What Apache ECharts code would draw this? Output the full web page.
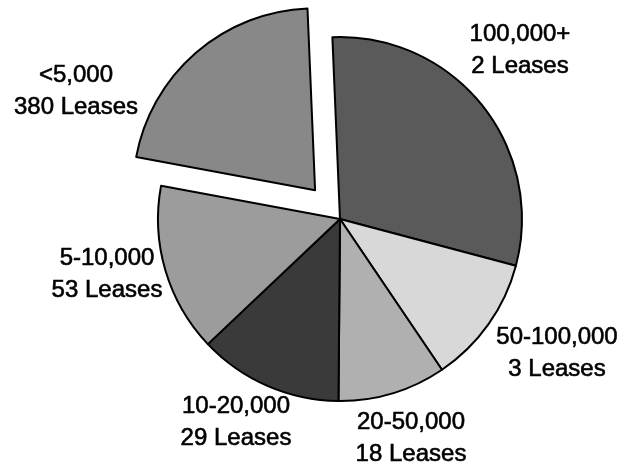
<!DOCTYPE html>
<html>
<head>
<meta charset="utf-8">
<script src="https://cdn.jsdelivr.net/npm/echarts@6/dist/echarts.min.js"></script>
<style>
html, body { margin: 0; padding: 0; background: #fff; }
#main { width: 624px; height: 468px; }
</style>
</head>
<body>
<div id="main"></div>
<script>
// lease size classes, clockwise from 12 o'clock
var classes = ['100,000+', '50-100,000', '20-50,000', '10-20,000', '5-10,000', '<5,000'];
var leaseCounts = [2, 3, 18, 29, 53, 380];
// share of the pie (percent)
var shares = [29.8, 11.4, 9.6, 12.8, 15.0, 21.4];
var exploded = '<5,000';

var sliceColors = ['#5a5a5a', '#d8d8d8', '#b0b0b0', '#3a3a3a', '#9c9c9c', '#888888'];
var fontSize = 24;

var pieCenter = [340, 219];
var pieRadius = 182;
var startAngle = 92.4;
var explodeOffset = 38;

// label block centres (px)
var labelPos = [[520, 50], [557, 353], [411, 438], [236, 422], [107, 274], [76, 91]];

// where the exploded slice sits: shift along its mid angle
var total = 0, before = 0, idx = classes.indexOf(exploded);
for (var i = 0; i < shares.length; i++) {
    total += shares[i];
    if (i < idx) before += shares[i];
}
var midDeg = startAngle - (before + shares[idx] / 2) / total * 360;
var midRad = midDeg * Math.PI / 180;
var explodedCenter = [
    pieCenter[0] + Math.cos(midRad) * explodeOffset,
    pieCenter[1] - Math.sin(midRad) * explodeOffset
];

var hidden = {color: 'transparent', borderWidth: 0};

// main pie: every slice but the exploded one
var mainData = [];
// second pie: only the exploded slice
var explodedData = [];
for (var i = 0; i < classes.length; i++) {
    var isOut = classes[i] === exploded;
    mainData.push({
        name: classes[i],
        value: shares[i],
        leases: leaseCounts[i],
        itemStyle: isOut ? hidden : {color: sliceColors[i]}
    });
    explodedData.push({
        name: classes[i],
        value: shares[i],
        itemStyle: isOut ? {color: sliceColors[i]} : hidden
    });
}

var chart = echarts.init(document.getElementById('main'));
var option = {
    backgroundColor: '#fff',
    animation: false,
    series: [{
        type: 'pie',
        center: pieCenter,
        radius: pieRadius,
        startAngle: startAngle,
        clockwise: true,
        avoidLabelOverlap: false,
        silent: true,
        itemStyle: {borderColor: '#000', borderWidth: 2},
        label: {
            show: true,
            position: 'outside',
            color: '#000',
            fontFamily: 'Liberation Sans, Arial, sans-serif',
            fontSize: fontSize,
            lineHeight: 32,
            align: 'center',
            textBorderColor: '#000',
            textBorderWidth: 0.6,
            formatter: function (p) {
                return p.name + '\n' + p.data.leases + ' Leases';
            }
        },
        labelLine: {show: false},
        labelLayout: function (params) {
            var pos = labelPos[params.dataIndex];
            return {x: pos[0], y: pos[1], align: 'center', verticalAlign: 'middle'};
        },
        data: mainData
    }, {
        type: 'pie',
        center: explodedCenter,
        radius: pieRadius,
        startAngle: startAngle,
        clockwise: true,
        silent: true,
        itemStyle: {borderColor: '#000', borderWidth: 2},
        label: {show: false},
        labelLine: {show: false},
        data: explodedData
    }]
};
chart.setOption(option);
</script>
</body>
</html>
